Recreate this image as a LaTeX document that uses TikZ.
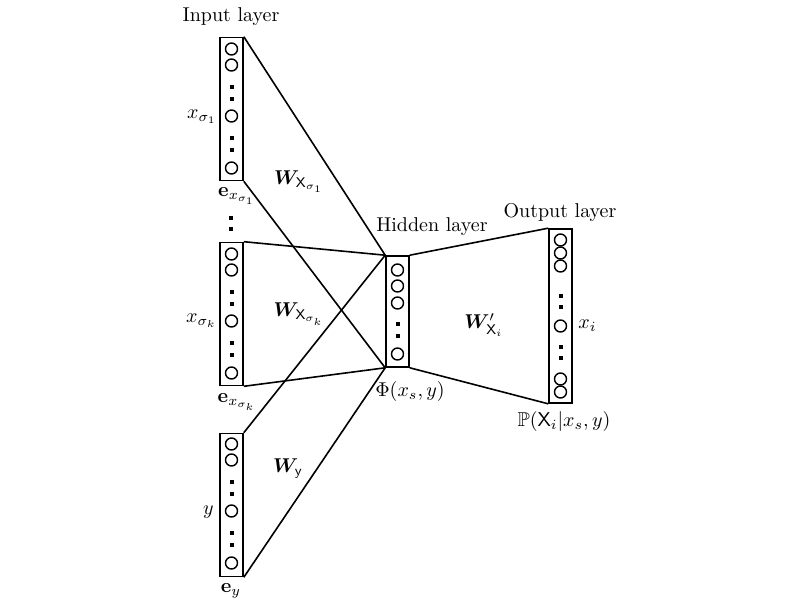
\documentclass[tikz,border=0pt]{standalone}
\usepackage{amsmath,amssymb,bm}
\tikzset{
	layerbox/.style={shape=rectangle, draw, line width=0.8pt, minimum width=11.5pt, inner sep=0pt},
	unit/.style={shape=circle, draw, line width=0.7pt, minimum size=6pt, inner sep=0pt},
	dotsq/.style={shape=rectangle, fill, minimum size=2pt, inner sep=0pt},
	link/.style={line width=0.8pt}
}
\begin{document}
\begin{tikzpicture}[x=0.5pt, y=-0.5pt]
		\useasboundingbox (0,0) rectangle (800,600);
		
			% input blocks
			\node (in1)[layerbox, minimum height=71.5pt] at (231.5,109) {};
			\node (in2)[layerbox, minimum height=71.5pt] at (231.5,314) {};
			\node (in3)[layerbox, minimum height=71.5pt] at (231.5,505) {};
			
			\node (a1)[unit] at (231.5,49) {};
			\node (a2)[unit] at (231.5,65) {};
			\node (a3)[unit] at (231.5,116) {};
			\node (a4)[unit] at (231.5,168) {};
			\node (ad1)[dotsq] at (231.5,87) {};
			\node (ad2)[dotsq] at (231.5,99) {};
			\node (ad3)[dotsq] at (231.5,138) {};
			\node (ad4)[dotsq] at (231.5,150) {};
			
			\node (b1)[unit] at (231.5,254) {};
			\node (b2)[unit] at (231.5,270) {};
			\node (b3)[unit] at (231.5,321) {};
			\node (b4)[unit] at (231.5,373) {};
			\node (bd1)[dotsq] at (231.5,292) {};
			\node (bd2)[dotsq] at (231.5,304) {};
			\node (bd3)[dotsq] at (231.5,343) {};
			\node (bd4)[dotsq] at (231.5,355) {};
			
			\node (c1)[unit] at (231.5,444) {};
			\node (c2)[unit] at (231.5,460) {};
			\node (c3)[unit] at (231.5,511) {};
			\node (c4)[unit] at (231.5,563) {};
			\node (cd1)[dotsq] at (231.5,482) {};
			\node (cd2)[dotsq] at (231.5,494) {};
			\node (cd3)[dotsq] at (231.5,533) {};
			\node (cd4)[dotsq] at (231.5,545) {};
			
			% dots between the first two blocks
			\node (gap1)[dotsq] at (231,218) {};
			\node (gap2)[dotsq] at (231,229) {};
			
			% hidden block
			\node (hid)[layerbox, minimum height=55.5pt] at (397.5,311.5) {};
			\node (h1)[unit] at (397.5,270) {};
			\node (h2)[unit] at (397.5,286) {};
			\node (h3)[unit] at (397.5,303) {};
			\node (h4)[unit] at (397.5,354) {};
			\node (hd1)[dotsq] at (397.5,324) {};
			\node (hd2)[dotsq] at (397.5,336) {};
			
			% output block
			\node (out)[layerbox, minimum height=87pt, minimum width=11.5pt] at (560.5,316) {};
			\node (o1)[unit] at (560.5,240) {};
			\node (o2)[unit] at (560.5,253) {};
			\node (o3)[unit] at (560.5,266) {};
			\node (o4)[unit] at (560.5,326) {};
			\node (o5)[unit] at (560.5,379) {};
			\node (o6)[unit] at (560.5,392) {};
			\node (od1)[dotsq] at (560.5,296) {};
			\node (od2)[dotsq] at (560.5,307) {};
			\node (od3)[dotsq] at (560.5,347) {};
			\node (od4)[dotsq] at (560.5,358) {};
			
			% labels
			\node (t1) at (231,17) {Input layer};
			\node (t2) at (432,227) {Hidden layer};
			\node (t3) at (560,212) {Output layer};
			
			\node (l1)[anchor=east, inner sep=1pt] at (219,117) {$x_{\sigma_1}$};
			\node (l2)[anchor=east, inner sep=1pt] at (219,321) {$x_{\sigma_k}$};
			\node (l3)[anchor=east, inner sep=1pt] at (216,512) {$y$};
			\node (l4)[anchor=west, inner sep=1pt] at (576,326) {$x_i$};
			
			\node (e1) at (237,196) {$\mathbf{e}_{x_{\sigma_1}}$};
			\node (e2) at (237,402) {$\mathbf{e}_{x_{\sigma_k}}$};
			\node (e3) at (231,591) {$\mathbf{e}_y$};
			\node (phi) at (410,391) {$\Phi(x_s,y)$};
			\node (prob) at (564,421) {$\mathbb{P}(\mathsf{X}_i|x_s,y)$};
			
			\node (w1) at (299,182) {$\bm{W}_{\mathsf{X}_{\sigma_1}}$};
			\node (w2) at (299,314) {$\bm{W}_{\mathsf{X}_{\sigma_k}}$};
			\node (w3) at (288,468) {$\bm{W}_{\mathsf{y}}$};
			\node (w4) at (484,325) {$\bm{W}'_{\mathsf{X}_i}$};
			
			% connections
			\draw[link] (in1.north east) -- (hid.north west);
			\draw[link] (in1.south east) -- (hid.south west);
			\draw[link] (in2.north east) -- (hid.north west);
			\draw[link] (in2.south east) -- (hid.south west);
			\draw[link] (in3.north east) -- (hid.north west);
			\draw[link] (in3.south east) -- (hid.south west);
			\draw[link] (hid.north east) -- (out.north west);
			\draw[link] (hid.south east) -- (out.south west);
		\end{tikzpicture}
\end{document}
